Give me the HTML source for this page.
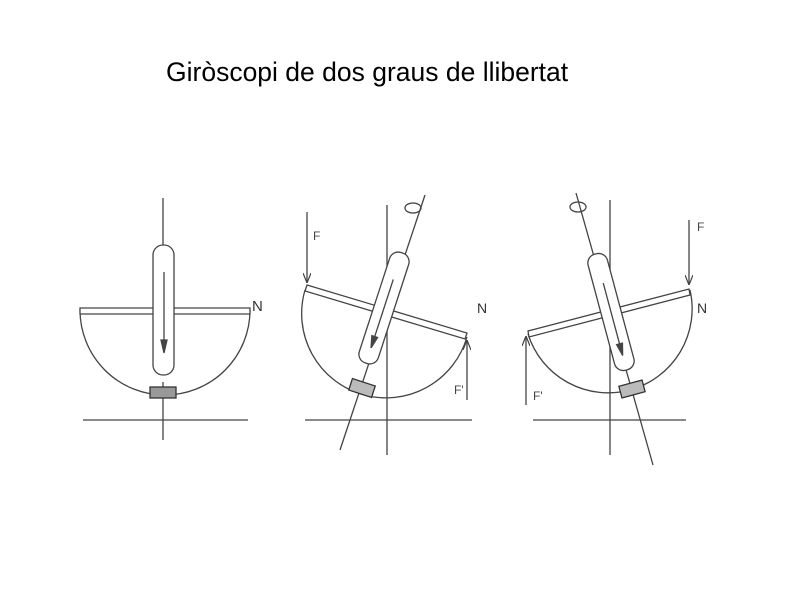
<!DOCTYPE html>
<html><head><meta charset="utf-8"><style>
html,body{margin:0;padding:0;background:#fff;width:800px;height:600px;overflow:hidden}
</style></head><body>
<svg width="800" height="600" viewBox="0 0 800 600" xmlns="http://www.w3.org/2000/svg">
<defs>
<marker id="ah" markerWidth="10" markerHeight="8" refX="10" refY="4" orient="auto" markerUnits="userSpaceOnUse">
<path d="M0,0 L10,4 L0,8" fill="none" stroke="#444" stroke-width="1.2"/>
</marker>
</defs>
<text x="166" y="81" font-family="Liberation Sans, sans-serif" font-size="26.5" fill="#000">Giròscopi de dos graus de llibertat</text>
<g stroke="#444" stroke-width="1.3" fill="none" font-family="Liberation Sans, sans-serif">
<!-- Fig 1 -->
<line x1="163" y1="198" x2="163" y2="245"/>
<line x1="163" y1="382" x2="163" y2="440"/>
<line x1="83" y1="420" x2="248" y2="420"/>
<path d="M80,310 A85,85 0 0 0 250,310"/>
<path d="M80,308 L250,308 L250,314 L80,314 Z" fill="#fff"/>
<rect x="153" y="245" width="21" height="130" rx="10" fill="#fff"/>
<line x1="164" y1="272" x2="164" y2="352"/>
<path d="M161,340 L164,353 L167,340 Z" fill="#444"/>
<rect x="150" y="387" width="26" height="11" fill="#999" stroke="#333"/>
<text x="252" y="311" font-size="15" fill="#333" stroke="none">N</text>
<!-- Fig 2 -->
<line x1="387" y1="205" x2="387" y2="455"/>
<line x1="425" y1="195" x2="340" y2="450"/>
<line x1="305" y1="420" x2="472" y2="420"/>
<path d="M305,290 A84,84 0 0 0 467,337"/>
<path d="M307,285 L467,333 L465,339 L305,291 Z" fill="#fff"/>
<g transform="translate(384,308) rotate(18)">
<rect x="-10" y="-58" width="20" height="116" rx="9" fill="#fff"/>
<line x1="0" y1="-30" x2="0" y2="40"/>
<path d="M-3,30 L0,42 L3,30 Z" fill="#444"/>
</g>
<g transform="translate(362,388) rotate(18)"><rect x="-12" y="-6" width="24" height="12" fill="#bbb" stroke="#333"/></g>
<ellipse cx="413" cy="208" rx="8" ry="5"/>
<line x1="307" y1="212" x2="307" y2="283" marker-end="url(#ah)"/>
<text x="313" y="240" font-size="12" fill="#444" stroke="none">F</text>
<line x1="467" y1="400" x2="467" y2="340" marker-end="url(#ah)"/>
<text x="454" y="394" font-size="12" fill="#444" stroke="none">F'</text>
<text x="477" y="313" font-size="14" fill="#333" stroke="none">N</text>
<!-- Fig 3 -->
<line x1="610" y1="200" x2="610" y2="455"/>
<line x1="576" y1="193" x2="653" y2="465"/>
<line x1="533" y1="420" x2="686" y2="420"/>
<path d="M528,334 A84,84 0 0 0 690,290"/>
<path d="M528,331 L689,289 L690,295 L529,337 Z" fill="#fff"/>
<g transform="translate(611,312) rotate(-15)">
<rect x="-10" y="-60" width="20" height="120" rx="9" fill="#fff"/>
<line x1="0" y1="-30" x2="0" y2="45"/>
<path d="M-3,33 L0,45 L3,33 Z" fill="#444"/>
</g>
<g transform="translate(632,389) rotate(-15)"><rect x="-12" y="-6" width="24" height="12" fill="#bbb" stroke="#333"/></g>
<ellipse cx="578" cy="207" rx="8" ry="5"/>
<line x1="689" y1="220" x2="689" y2="285" marker-end="url(#ah)"/>
<text x="697" y="231" font-size="12" fill="#444" stroke="none">F</text>
<line x1="526" y1="405" x2="526" y2="336" marker-end="url(#ah)"/>
<text x="533" y="400" font-size="12" fill="#444" stroke="none">F'</text>
<text x="697" y="313" font-size="14" fill="#333" stroke="none">N</text>
</g>
</svg>
</body></html>
